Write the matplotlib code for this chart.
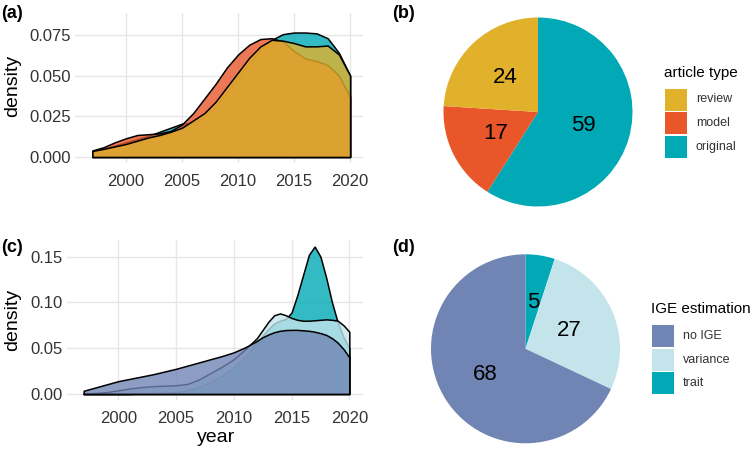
import matplotlib
matplotlib.use('Agg')
import matplotlib.pyplot as plt
from matplotlib.colors import to_rgba
from matplotlib.patches import Rectangle

plt.rcParams['font.family'] = ['Liberation Sans', 'DejaVu Sans']

# ---------------- data ----------------
years_a = [1997, 1998, 1999, 2000, 2001, 2002, 2003, 2004, 2005, 2006, 2007, 2008,
           2009, 2010, 2011, 2012, 2013, 2014, 2015, 2016, 2017, 2018, 2019, 2020]
review_density = [0.0037, 0.005, 0.0065, 0.008, 0.010, 0.012, 0.0135, 0.0155, 0.018, 0.0225,
                  0.027, 0.034, 0.043, 0.052, 0.061, 0.068, 0.072, 0.0715, 0.070, 0.068,
                  0.068, 0.0685, 0.063, 0.050]
model_density = [0.004, 0.006, 0.009, 0.0115, 0.0135, 0.014, 0.0145, 0.016, 0.020, 0.027,
                 0.036, 0.045, 0.055, 0.063, 0.069, 0.0725, 0.073, 0.071, 0.065, 0.0605,
                 0.059, 0.0565, 0.050, 0.037]
original_density = [0.003, 0.005, 0.007, 0.009, 0.011, 0.013, 0.0155, 0.018, 0.0205, 0.021,
                    0.025, 0.031, 0.040, 0.049, 0.058, 0.066, 0.072, 0.0755, 0.0765, 0.0765,
                    0.076, 0.073, 0.064, 0.050]

article_types = ['review', 'model', 'original']
article_counts = [24, 17, 59]
article_colors = ['#E2B12C', '#E8562A', '#00A9B5']

years_c = [1997, 1998, 1999, 2000, 2001, 2002, 2003, 2004, 2005, 2006, 2007, 2008,
           2009, 2010, 2011, 2012, 2012.5, 2013, 2013.5, 2014, 2014.5, 2015, 2015.5,
           2016, 2016.5, 2017, 2017.5, 2018, 2018.5, 2019, 2019.5, 2020]
noige_density = [0.0035, 0.007, 0.0105, 0.014, 0.0165, 0.019, 0.0215, 0.0245, 0.0275, 0.031,
                 0.0345, 0.038, 0.0415, 0.0455, 0.051, 0.058, 0.062, 0.065, 0.0675, 0.069,
                 0.0698, 0.070, 0.070, 0.0695, 0.069, 0.068, 0.0665, 0.0645, 0.061, 0.056,
                 0.049, 0.040]
variance_density = [0.0005, 0.001, 0.002, 0.004, 0.006, 0.0075, 0.0085, 0.009, 0.0095, 0.011,
                    0.016, 0.023, 0.030, 0.038, 0.049, 0.061, 0.070, 0.079, 0.086, 0.088,
                    0.086, 0.083, 0.081, 0.080, 0.080, 0.0805, 0.081, 0.0815, 0.081, 0.080,
                    0.075, 0.068]
trait_density = [0.0, 0.0, 0.0, 0.0, 0.0, 0.0005, 0.001, 0.0015, 0.002, 0.004,
                 0.008, 0.013, 0.020, 0.029, 0.041, 0.056, 0.064, 0.071, 0.077, 0.080,
                 0.082, 0.089, 0.108, 0.130, 0.152, 0.161, 0.150, 0.127, 0.100, 0.078,
                 0.062, 0.050]

ige_types = ['no IGE', 'variance', 'trait']
ige_counts = [68, 27, 5]
ige_colors = ['#7185B4', '#C4E4EC', '#00A9B5']

x_ticks = [2000, 2005, 2010, 2015, 2020]
a_yticks = [0.000, 0.025, 0.050, 0.075]
a_yticklabels = ['0.000', '0.025', '0.050', '0.075']
c_yticks = [0.00, 0.05, 0.10, 0.15]
c_yticklabels = ['0.00', '0.05', '0.10', '0.15']

# ---------------- figure ----------------
W, H = 752, 457
fig = plt.figure(figsize=(W / 100, H / 100), dpi=100)
fig.patch.set_facecolor('white')

def rect(left, top, right, bottom):
    return [left / W, 1 - bottom / H, (right - left) / W, (bottom - top) / H]

ALPHA = 0.8
TICK_COLOR = '#333333'

def style_density(ax, xlim, ylim, yticks, ylabels):
    ax.set_xlim(*xlim)
    ax.set_ylim(*ylim)
    ax.set_xticks(x_ticks)
    ax.set_xticklabels([str(t) for t in x_ticks])
    ax.set_yticks(yticks)
    ax.set_yticklabels(ylabels)
    ax.tick_params(length=0, labelsize=12, colors=TICK_COLOR)
    ax.tick_params(axis='x', pad=8)
    ax.tick_params(axis='y', pad=3)
    for s in ax.spines.values():
        s.set_visible(False)
    ax.grid(True, color='#E6E6E6', lw=1.0)
    ax.set_axisbelow(True)
    ax.set_facecolor('white')

# panel (a)
axa = fig.add_axes(rect(75, 13, 363, 163))
series_a = [(original_density, article_colors[2]),
            (model_density, article_colors[1]),
            (review_density, article_colors[0])]
for i, (dens, col) in enumerate(series_a):
    axa.fill_between(years_a, 0, dens, facecolor=to_rgba(col, ALPHA),
                     edgecolor='black', linewidth=1.1, zorder=2 + i)
style_density(axa, (1995.45, 2021.15), (-0.0037, 0.0885), a_yticks, a_yticklabels)

# panel (c)
axc = fig.add_axes(rect(66.7, 240, 362.7, 400))
series_c = [(trait_density, ige_colors[2]),
            (variance_density, ige_colors[1]),
            (noige_density, ige_colors[0])]
for i, (dens, col) in enumerate(series_c):
    axc.fill_between(years_c, 0, dens, facecolor=to_rgba(col, ALPHA),
                     edgecolor='black', linewidth=1.1, zorder=2 + i)
style_density(axc, (1995.53, 2021.16), (-0.0066, 0.1682), c_yticks, c_yticklabels)

# pies
def draw_pie(ax, counts, colors):
    wedges, texts = ax.pie(counts[::-1], colors=colors[::-1], startangle=90,
                           counterclock=False, labels=[str(c) for c in counts[::-1]],
                           labeldistance=0.5, radius=1,
                           wedgeprops=dict(linewidth=0),
                           textprops=dict(fontsize=16, color='black'))
    for t in texts:
        t.set_ha('center')
        t.set_va('center')
    ax.set_xlim(-1, 1)
    ax.set_ylim(-1, 1)
    ax.set_aspect('equal')
    ax.axis('off')

axb = fig.add_axes(rect(443.5, 17.5, 632.5, 206.5))
draw_pie(axb, article_counts, article_colors)
axd = fig.add_axes(rect(431, 254.3, 620, 443.3))
draw_pie(axd, ige_counts, ige_colors)

# overlay for labels / legends (pixel coordinates)
ov = fig.add_axes([0, 0, 1, 1])
ov.set_xlim(0, W)
ov.set_ylim(H, 0)
ov.axis('off')

for lab, x, y in [('(a)', 1, 13), ('(b)', 392, 13), ('(c)', 1, 248), ('(d)', 392, 248)]:
    ov.text(x, y, lab, fontsize=13, fontweight='bold', ha='left', va='center')

ov.text(13, 86, 'density', fontsize=14, rotation=90, ha='center', va='center')
ov.text(13, 320, 'density', fontsize=14, rotation=90, ha='center', va='center')
ov.text(216, 438, 'year', fontsize=14, ha='center', va='center')

def legend(x, title_y, top0, title, names, colors):
    ov.text(x - 1, title_y, title, fontsize=11, ha='left', va='center')
    for i, (n, c) in enumerate(zip(names, colors)):
        top = top0 + i * 23.7
        ov.add_patch(Rectangle((x, top), 22, 22, facecolor=c, edgecolor='none'))
        ov.text(x + 31, top + 11, n, fontsize=9, ha='left', va='center', color=TICK_COLOR)

legend(665, 73, 88.5, 'article type', article_types, article_colors)
legend(652, 309, 325, 'IGE estimation', ige_types, ige_colors)

fig.savefig('out.png', dpi=100, facecolor='white')
